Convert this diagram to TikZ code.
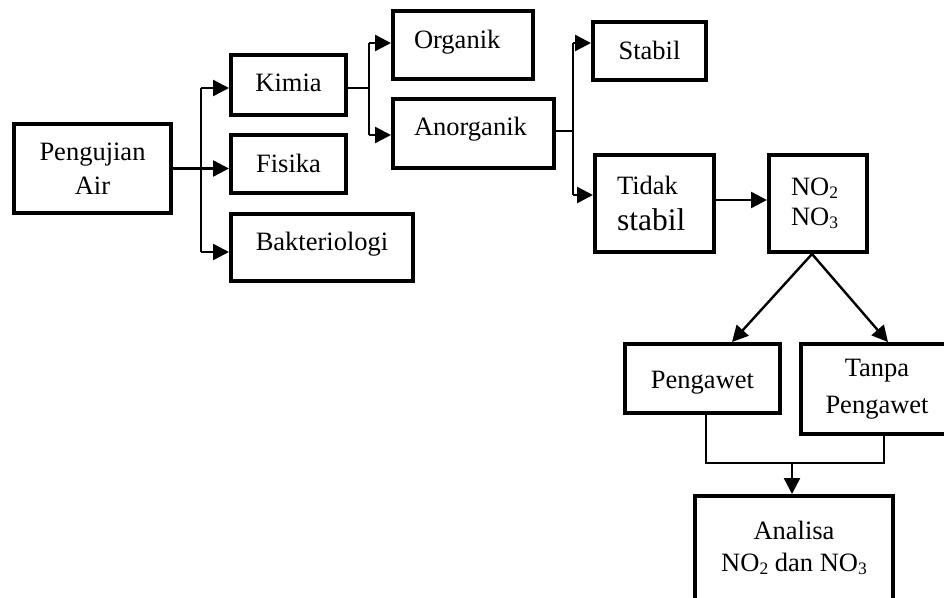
\documentclass[tikz,border=0pt]{standalone}
\usepackage{fontspec}
\setmainfont{Liberation Serif}
\usetikzlibrary{arrows.meta}
\newcommand\mysub[1]{\raisebox{-3.5pt}{\fontsize{17.5}{17.5}\selectfont #1}}
\begin{document}
\begin{tikzpicture}[x=1pt,y=-1pt,
  box/.style={draw,line width=4pt,rectangle,inner sep=0pt,
    font=\fontsize{26.5}{34}\selectfont},
  conn/.style={line width=2.4pt},
  arr/.style={line width=2.4pt,-{Triangle[length=16pt,width=16pt]}},
  thinline/.style={line width=1.3pt}]
\clip (0,0) rectangle (944,597);
\fill[white] (0,0) rectangle (944,597);
% boxes
\node[box,minimum width=157pt,minimum height=89pt,align=center] (peng) at (92.5,168.5) {Pengujian\\Air};
\node[box,minimum width=115pt,minimum height=60pt,text height=18pt,text depth=6pt] (kimia) at (288.5,85) {Kimia};
\node[box,minimum width=115pt,minimum height=58pt,text height=18pt,text depth=2pt] (fisika) at (288.5,164) {Fisika};
\node[box,minimum width=182pt,minimum height=67pt,text height=18pt,text depth=12pt] (bakt) at (322,247.5) {Bakteriologi};
\node[box,minimum width=140pt,minimum height=68pt,text height=18pt,text depth=12pt,text width=98pt,align=left] (org) at (463,45) {Organik};
\node[box,minimum width=161pt,minimum height=69pt,text height=18pt,text depth=15pt,text width=119pt,align=left] (anorg) at (473.5,133.5) {Anorganik};
\node[box,minimum width=113pt,minimum height=58pt,text height=18pt,text depth=2pt] (stabil) at (649.5,51) {Stabil};
\node[box,minimum width=119pt,minimum height=97pt,text width=75pt,align=left] (tidak) at (654.5,203.5) {Tidak\\[2pt]{\fontsize{31.5}{34}\selectfont stabil}};
\node[box,minimum width=98pt,minimum height=97pt,text width=54pt,align=left] (no) at (818,203.5) {NO\mysub{2}\\[-4pt]NO\mysub{3}};
\node[box,minimum width=155pt,minimum height=69pt,text height=19pt,text depth=0pt] (pengawet) at (702.5,378.5) {Pengawet};
\node[box,minimum width=152pt,minimum height=90pt,align=center] (tanpa) at (877,389) {Tanpa\\[3pt]Pengawet};
\node[box,minimum width=198pt,minimum height=104pt,align=center] (analisa) at (794,548) {Analisa\\[-2pt]NO\mysub{2} dan NO\mysub{3}};
% junctions
\coordinate (j1) at (201,88);
\coordinate (j2) at (201,252);
\coordinate (k1) at (369,43);
\coordinate (k2) at (369,135);
\coordinate (k0) at (369,88);
\coordinate (a1) at (573,43);
\coordinate (a2) at (573,195);
\coordinate (a0) at (573,131);
\coordinate (m1) at (706,463);
\coordinate (m2) at (884,463);
\coordinate (m3) at (792,463);
% connectors level 1
\draw[conn] (j1) -- (j2);
\draw[arr] (peng.east) -- (peng.east -| fisika.west);
\draw[arr] (j1) -- (j1 -| kimia.west);
\draw[arr] (j2) -- (j2 -| bakt.west);
% level 2
\draw[conn] (k0 -| kimia.east) -- (k0);
\draw[conn] (k1) -- (k2);
\draw[arr] (k1) -- (k1 -| org.west);
\draw[arr] (k2) -- (k2 -| anorg.west);
% level 3
\draw[conn] (a0 -| anorg.east) -- (a0);
\draw[conn] (a1) -- (a2);
\draw[arr] (a1) -- (a1 -| stabil.west);
\draw[arr] (a2) -- (a2 -| tidak.west);
% tidak -> no
\draw[arr] ([yshift=3.5]tidak.east) -- ([yshift=3.5]no.west);
% diagonals
\draw[arr] ([xshift=-6]no.south) -- ([xshift=29.5]pengawet.north);
\draw[arr] ([xshift=-6]no.south) -- ([xshift=11]tanpa.north);
% merge
\draw[thinline] ([xshift=3.5]pengawet.south) -- (m1) -- (m2) -- ([xshift=7]tanpa.south);
\draw[arr] (m3) -- (m3 |- analisa.north);
\end{tikzpicture}
\end{document}
